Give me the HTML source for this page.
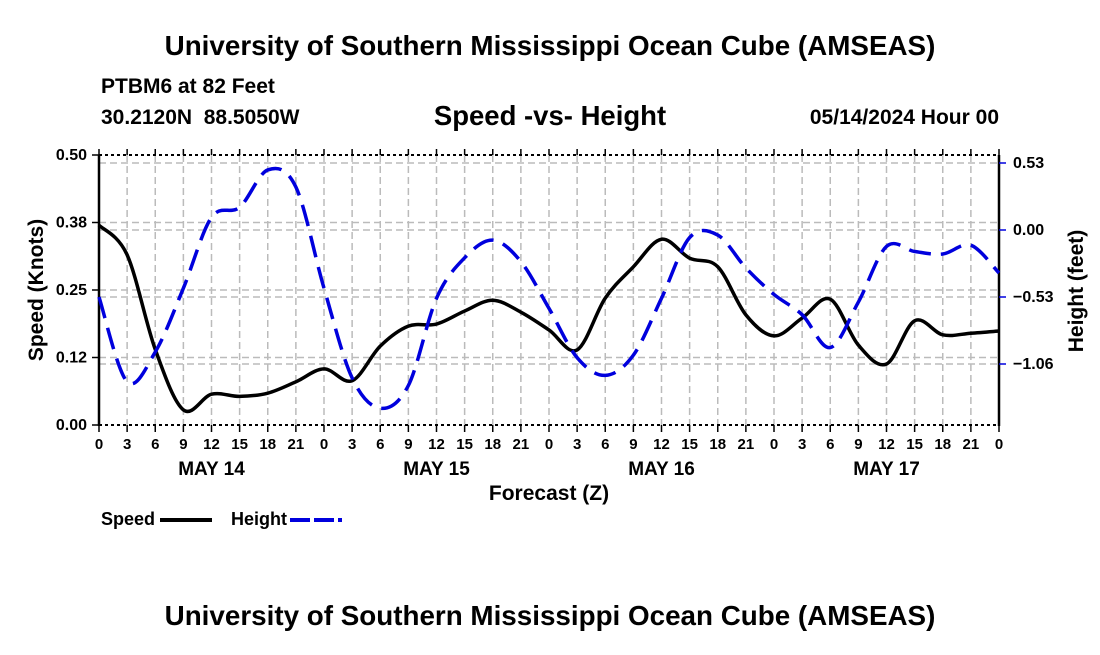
<!DOCTYPE html>
<html><head><meta charset="utf-8"><style>
body{margin:0;background:#fff;}
svg text{font-family:"Liberation Sans",Arial,sans-serif;font-weight:bold;fill:#000;white-space:pre;}
</style></head><body>
<svg id="chart" width="1100" height="650" viewBox="0 0 1100 650" xmlns="http://www.w3.org/2000/svg">
<rect width="1100" height="650" fill="#fff"/>
<text x="550" y="55" font-size="27.8" text-anchor="middle">University of Southern Mississippi Ocean Cube (AMSEAS)</text>
<text x="101" y="93" font-size="21">PTBM6 at 82 Feet</text>
<text x="101" y="124" font-size="21" xml:space="preserve">30.2120N  88.5050W</text>
<text x="550" y="125" font-size="27.5" text-anchor="middle">Speed -vs- Height</text>
<text x="999" y="124" font-size="21" text-anchor="end">05/14/2024 Hour 00</text>
<g id="grid"></g>
<g id="axes"></g>
<g id="series"></g>
<text x="549" y="500" font-size="21" text-anchor="middle">Forecast (Z)</text>
<text transform="translate(43,290) rotate(-90)" font-size="21" text-anchor="middle">Speed (Knots)</text>
<text transform="translate(1083,291) rotate(-90)" font-size="21" text-anchor="middle">Height (feet)</text>
<g>
<text x="101" y="525" font-size="18">Speed</text>
<line x1="160" y1="520" x2="212" y2="520" stroke="#000" stroke-width="4"/>
<text x="231" y="525" font-size="18">Height</text>
<line x1="290" y1="520" x2="342" y2="520" stroke="#00d" stroke-width="4" stroke-dasharray="20 4"/>
</g>
<text x="550" y="625" font-size="27.8" text-anchor="middle">University of Southern Mississippi Ocean Cube (AMSEAS)</text>
</svg>
<script>
const hours = [0,3,6,9,12,15,18,21,24,27,30,33,36,39,42,45,48,51,54,57,60,63,66,69,72,75,78,81,84,87,90,93,96];
const speed = [0.37,0.315,0.14,0.028,0.057,0.053,0.059,0.08,0.104,0.082,0.146,0.183,0.187,0.211,0.231,0.209,0.176,0.139,0.235,0.293,0.344,0.309,0.293,0.204,0.165,0.198,0.233,0.148,0.113,0.193,0.167,0.170,0.174];
const height = [-0.53,-1.20,-0.965,-0.46,0.10,0.18,0.475,0.34,-0.46,-1.17,-1.41,-1.23,-0.54,-0.22,-0.08,-0.25,-0.62,-1.01,-1.15,-0.99,-0.54,-0.06,-0.04,-0.30,-0.51,-0.67,-0.93,-0.57,-0.13,-0.17,-0.19,-0.12,-0.34];
const xTickLabels = ["0","3","6","9","12","15","18","21"];
const dayLabels = ["MAY 14","MAY 15","MAY 16","MAY 17"];
const leftTicks = [0,0.125,0.25,0.375,0.5];
const leftTickLabels = ["0.00","0.12","0.25","0.38","0.50"];
const rightTicks = [0.53,0,-0.53,-1.06];
const rightTickLabels = ["0.53","0.00","\u22120.53","\u22121.06"];

const X0=99,X1=999,Y0=425,Y1=155;
const xS=h=>X0+(X1-X0)*h/96;
const yL=v=>Y0-(Y0-Y1)*v/0.5;
const yR=v=>230-v*67/0.53;
const NS="http://www.w3.org/2000/svg";
function mk(parent,tag,attrs){const e=document.createElementNS(NS,tag);for(const k in attrs)e.setAttribute(k,attrs[k]);document.getElementById(parent).appendChild(e);return e;}

for(let h=3;h<96;h+=3){
  const g=mk('grid','line',{x1:xS(h),x2:xS(h),y1:Y1,y2:Y0,stroke:'#bbb','stroke-width':1.5,'stroke-dasharray':'7 4'});
  
  
}
leftTicks.slice(1,4).forEach(v=>{
  const g=mk('grid','line',{x1:X0,x2:X1,y1:yL(v),y2:yL(v),stroke:'#bbb','stroke-width':1.5,'stroke-dasharray':'7 4'});
  
  
});
rightTicks.forEach(v=>{
  const g=mk('grid','line',{x1:X0,x2:X1,y1:yR(v),y2:yR(v),stroke:'#bbb','stroke-width':1.5,'stroke-dasharray':'7 4'});
  
  
});

[[X0,Y1,X1,Y1],[X0,Y0,X1,Y0]].forEach(a=>{
  const l=mk('axes','line',{x1:a[0],y1:a[1],x2:a[2],y2:a[3],stroke:'#000','stroke-width':2,'stroke-dasharray':'3 3'});
  
  
});
let la=mk('axes','line',{x1:X0,y1:Y1,x2:X0,y2:Y0+1,stroke:'#000','stroke-width':2.5});


let ra=mk('axes','line',{x1:X1,y1:Y1,x2:X1,y2:Y0+1,stroke:'#000','stroke-width':2.5});



for(let h=0;h<=96;h+=3){
  const x=xS(h);
  const t=mk('axes','line',{x1:x,x2:x,y1:Y0,y2:Y0+7,stroke:'#000','stroke-width':1.5});
  
  
  const t2=mk('axes','line',{x1:x,x2:x,y1:Y1,y2:Y1-6,stroke:'#000','stroke-width':1.5});
  
  
  const tx=mk('axes','text',{x:x,y:Y0+24,'font-size':15,'text-anchor':'middle'});
  
  
  tx.textContent=xTickLabels[(h/3)%8];
}
dayLabels.forEach((d,i)=>{
  const tx=mk('axes','text',{x:xS(12+24*i),y:Y0+50,'font-size':19,'text-anchor':'middle'});
  
  
  tx.textContent=d;
});
leftTicks.forEach((v,i)=>{
  const t=mk('axes','line',{x1:X0-7,x2:X0,y1:yL(v),y2:yL(v),stroke:'#000','stroke-width':1.5});
  
  
  const tx=mk('axes','text',{x:X0-12,y:yL(v)+5,'font-size':16,'text-anchor':'end'});
  
  
  tx.textContent=leftTickLabels[i];
});
rightTicks.forEach((v,i)=>{
  const t=mk('axes','line',{x1:X1,x2:X1+7,y1:yR(v),y2:yR(v),stroke:'#00d','stroke-width':1.5});
  
  
  const tx=mk('axes','text',{x:X1+14,y:yR(v)+5,'font-size':16,'text-anchor':'start'});
  
  
  tx.textContent=rightTickLabels[i];
});

function smooth(pts){
  let d='M'+pts[0][0]+','+pts[0][1];
  for(let i=0;i<pts.length-1;i++){
    const p0=pts[Math.max(0,i-1)],p1=pts[i],p2=pts[i+1],p3=pts[Math.min(pts.length-1,i+2)];
    const c1=[p1[0]+(p2[0]-p0[0])/6,p1[1]+(p2[1]-p0[1])/6];
    const c2=[p2[0]-(p3[0]-p1[0])/6,p2[1]-(p3[1]-p1[1])/6];
    d+=' C'+c1.join(',')+' '+c2.join(',')+' '+p2.join(',');
  }
  return d;
}
const sp=mk('series','path',{d:smooth(hours.map((h,i)=>[xS(h),yL(speed[i])])),fill:'none',stroke:'#000','stroke-width':3.5});


const hp=mk('series','path',{d:smooth(hours.map((h,i)=>[xS(h),yR(height[i])])),fill:'none',stroke:'#00d','stroke-width':3.5,'stroke-dasharray':'22 10'});


</script>
</body></html>
